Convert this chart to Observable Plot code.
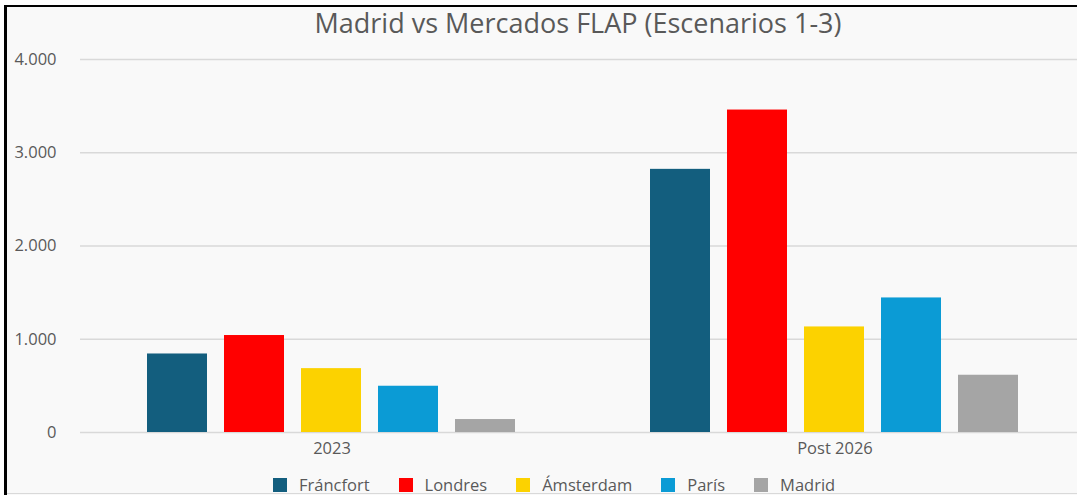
<!DOCTYPE html>
<html>
<head>
<meta charset="utf-8">
<script src="https://cdn.jsdelivr.net/npm/d3@7"></script>
<script src="https://cdn.jsdelivr.net/npm/@observablehq/plot@0.6"></script>
<style>
  html, body { margin: 0; padding: 0; background: #fff; }
  #wrap { position: relative; width: 1077px; height: 495px; overflow: hidden; background: #fff; font-family: "Open Sans", Lato, sans-serif; }
  #frame { position: absolute; left: 4px; top: 5px; right: 0; bottom: 0; border-left: 3px solid #000; border-top: 2px solid #000; background: #f9f9f9; }
  #title { position: absolute; left: 79px; right: 0; top: 8px; line-height: 30px; font-size: 27px; color: #595959; text-align: center; }
  #chart { position: absolute; left: 0; top: 44px; }
  #legend { position: absolute; left: 273px; top: 476px; display: flex; align-items: center; font-size: 16.5px; color: #595959; line-height: 18px; }
  .item { display: flex; align-items: center; margin-right: 29px; }
  .sw { width: 14px; height: 14px; margin-right: 12px; }
  #bottomline { position: absolute; left: 7px; right: 0; top: 493px; height: 1px; background: #d9d9d9; }
</style>
</head>
<body>
<div id="wrap">
  <div id="frame"></div>
  <div id="title">Madrid vs Mercados FLAP (Escenarios 1-3)</div>
  <div id="chart"></div>
  <div id="legend"></div>
  <div id="bottomline"></div>
</div>
<script>
const categories = ["Fráncfort", "Londres", "Ámsterdam", "París", "Madrid"];
const periods = ["2023", "Post 2026"];
const values2023 = [842, 1040, 685, 496, 139];
const valuesPost2026 = [2822, 3458, 1132, 1443, 614];
const colors = ["#135e7e", "#ff0000", "#fcd200", "#0b9bd5", "#a5a5a5"];
const yTicks = [0, 1000, 2000, 3000, 4000];
const yTickLabels = ["0", "1.000", "2.000", "3.000", "4.000"];

const data = [];
categories.forEach((c, i) => data.push({period: periods[0], city: c, value: values2023[i]}));
categories.forEach((c, i) => data.push({period: periods[1], city: c, value: valuesPost2026[i]}));

const chart = Plot.plot({
  width: 1077,
  height: 420,
  marginTop: 15,
  marginBottom: 32,
  marginLeft: 79,
  marginRight: -9,
  style: { background: "transparent", fontFamily: "'Open Sans', Lato, sans-serif", color: "#595959" },
  fx: { domain: periods, padding: 0, label: null },
  x: { domain: categories, paddingInner: 0.22, paddingOuter: 0.86, axis: null },
  y: { domain: [0, 4000], label: null },
  color: { domain: categories, range: colors },
  marks: [
    Plot.ruleY(yTicks, { y: d => d, stroke: "#d9d9d9", strokeWidth: 1.3 }),
    Plot.barY(data, { fx: "period", x: "city", y: "value", fill: "city" }),
    Plot.axisY({ ticks: yTicks, tickFormat: (d) => yTickLabels[yTicks.indexOf(d)], tickSize: 0, tickPadding: 24, fontSize: 16.5, label: null }),
    Plot.axisFx({ anchor: "bottom", tickSize: 0, tickPadding: 10, fontSize: 16.5, label: null })
  ]
});
document.getElementById("chart").appendChild(chart);

const legend = document.getElementById("legend");
categories.forEach((c, i) => {
  const it = document.createElement("div");
  it.className = "item";
  const sw = document.createElement("div");
  sw.className = "sw";
  sw.style.background = colors[i];
  const t = document.createElement("span");
  t.textContent = c;
  it.appendChild(sw);
  it.appendChild(t);
  legend.appendChild(it);
});
</script>
</body>
</html>
